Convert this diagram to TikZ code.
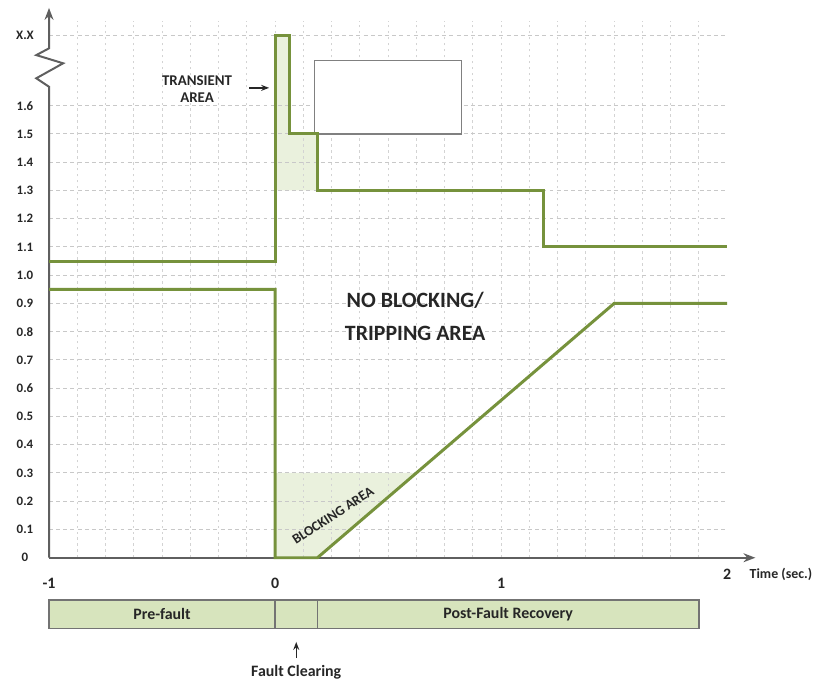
\documentclass[tikz,border=0pt]{standalone}
\usepackage{fontspec}
\setmainfont{Carlito}
\usetikzlibrary{arrows.meta}
\definecolor{curvegreen}{HTML}{76923C}
\definecolor{areafill}{HTML}{EAF1DD}
\definecolor{barfill}{HTML}{D7E4BD}
\definecolor{gridgray}{HTML}{C8C8C8}
\definecolor{axisgray}{HTML}{5F5F5F}
\definecolor{textdark}{HTML}{262626}

\begin{document}
\begin{tikzpicture}[x=0.5cm,y=0.5cm,
    hgrid/.style={gridgray,line width=0.5pt,dash pattern=on 2pt off 1.6pt},
    vgrid/.style={gridgray!80,line width=0.4pt,dash pattern=on 1.2pt off 1.8pt},
    curve/.style={curvegreen,line width=1.5pt,line join=miter},
    axis/.style={axisgray,line width=1pt},
    tick/.style={text=textdark,font={\fontsize{6.5}{7}\selectfont\bfseries}},
    tlabel/.style={text=textdark,font={\fontsize{8}{9}\selectfont\bfseries}},
    phase/.style={draw=gray!90!black,fill=barfill,line width=0.8pt,minimum height=0.5cm,
                  inner sep=0pt,outer sep=0pt,text=textdark,font={\fontsize{8}{9}\selectfont\bfseries}},
    area/.style={text=textdark,font={\fontsize{7.5}{8.5}\selectfont\bfseries},align=center}]
\useasboundingbox (-9.735,-4.365) rectangle (19.04,19.74);
% shaded areas
\fill[areafill] (0,13) -- (0,18.5) -- (0.5,18.5) -- (0.5,15) -- (1.5,15) -- (1.5,13) -- cycle;
\fill[areafill] (0,0) -- (0,3) -- (5,3) -- (1.5,0) -- cycle;
% grid
\foreach \x in {-7,...,15} \draw[vgrid] (\x,0) -- (\x,19);
\foreach \y in {1,...,16} \draw[hgrid] (-8,\y) -- (16,\y);
\draw[hgrid] (-8,18.5) -- (16,18.5);
\draw[gray,line width=0.6pt,fill=white] (1.4,15) rectangle (6.6,17.6);
% axes
\draw[axis,-{Stealth[length=6pt,width=4.5pt]}] (-8,0) -- (17,0);
\draw[axis,-{Stealth[length=6pt,width=4.5pt]}] (-8,0) -- (-8,16.67) -- (-8.45,16.97) -- (-7.5,17.5)
    -- (-8.45,17.79) -- (-8,18.03) -- (-8,19.46);
\foreach \y/\t in {0/0,1/0.1,2/0.2,3/0.3,4/0.4,5/0.5,6/0.6,7/0.7,8/0.8,9/0.9,10/1.0,11/1.1,
                   12/1.2,13/1.3,14/1.4,15/1.5,16/1.6,18.5/X.X}
    \node[tick] (ylab\y) at (-8.85,\y) {\t};
\node[tlabel] (xm1) at (-8,-0.9) {-1};
\node[tlabel] (x0) at (0,-0.9) {0};
\node[tlabel] (x1) at (8,-0.9) {1};
\node[tlabel] (x2) at (16,-0.6) {2};
\node[text=textdark,font={\fontsize{7}{8}\selectfont\bfseries},anchor=west] (tsec) at (16.55,-0.6) {Time (sec.)};
% limit curves
\draw[curve] (-8,10.5) -- (0,10.5) -- (0,18.5) -- (0.5,18.5) -- (0.5,15) -- (1.5,15) -- (1.5,13)
    -- (9.5,13) -- (9.5,11) -- (16,11);
\draw[curve] (-8,9.5) -- (0,9.5) -- (0,0) -- (1.5,0) -- (12,9) -- (16,9);
% labels
\node[area] (trans) at (-2.76,16.6) {TRANSIENT\\AREA};
\coordinate (transtip) at (-0.21,16.63);
\draw[textdark,line width=0.7pt,-{Stealth[length=4pt,width=3pt]},shorten <=5pt] (trans.east|-transtip) -- (transtip);
\node[text=textdark,font={\fontsize{11}{16.5}\selectfont\bfseries},align=center] (noblock) at (4.96,8.55)
    {NO BLOCKING/\\TRIPPING AREA};
\node[text=textdark,font={\fontsize{7}{8}\selectfont\bfseries},rotate=33,inner sep=1pt] (block) at (2.05,1.5) {BLOCKING AREA};
% time bar
\node[phase,minimum width=4cm] (pre) at (-4,-2) {Pre-fault};
\node[phase,minimum width=0.75cm] (clear) at (0.75,-2) {};
\node[phase,minimum width=6.75cm] (post) at (8.25,-2) {Post-Fault Recovery};
\node[tlabel] (fc) at (0.75,-4.05) {Fault Clearing};
\coordinate (fctip) at (0.75,-2.98);
\draw[textdark,line width=0.7pt,-{Stealth[length=4pt,width=3pt]}] (fc.north) -- (fctip);
\end{tikzpicture}
\end{document}
